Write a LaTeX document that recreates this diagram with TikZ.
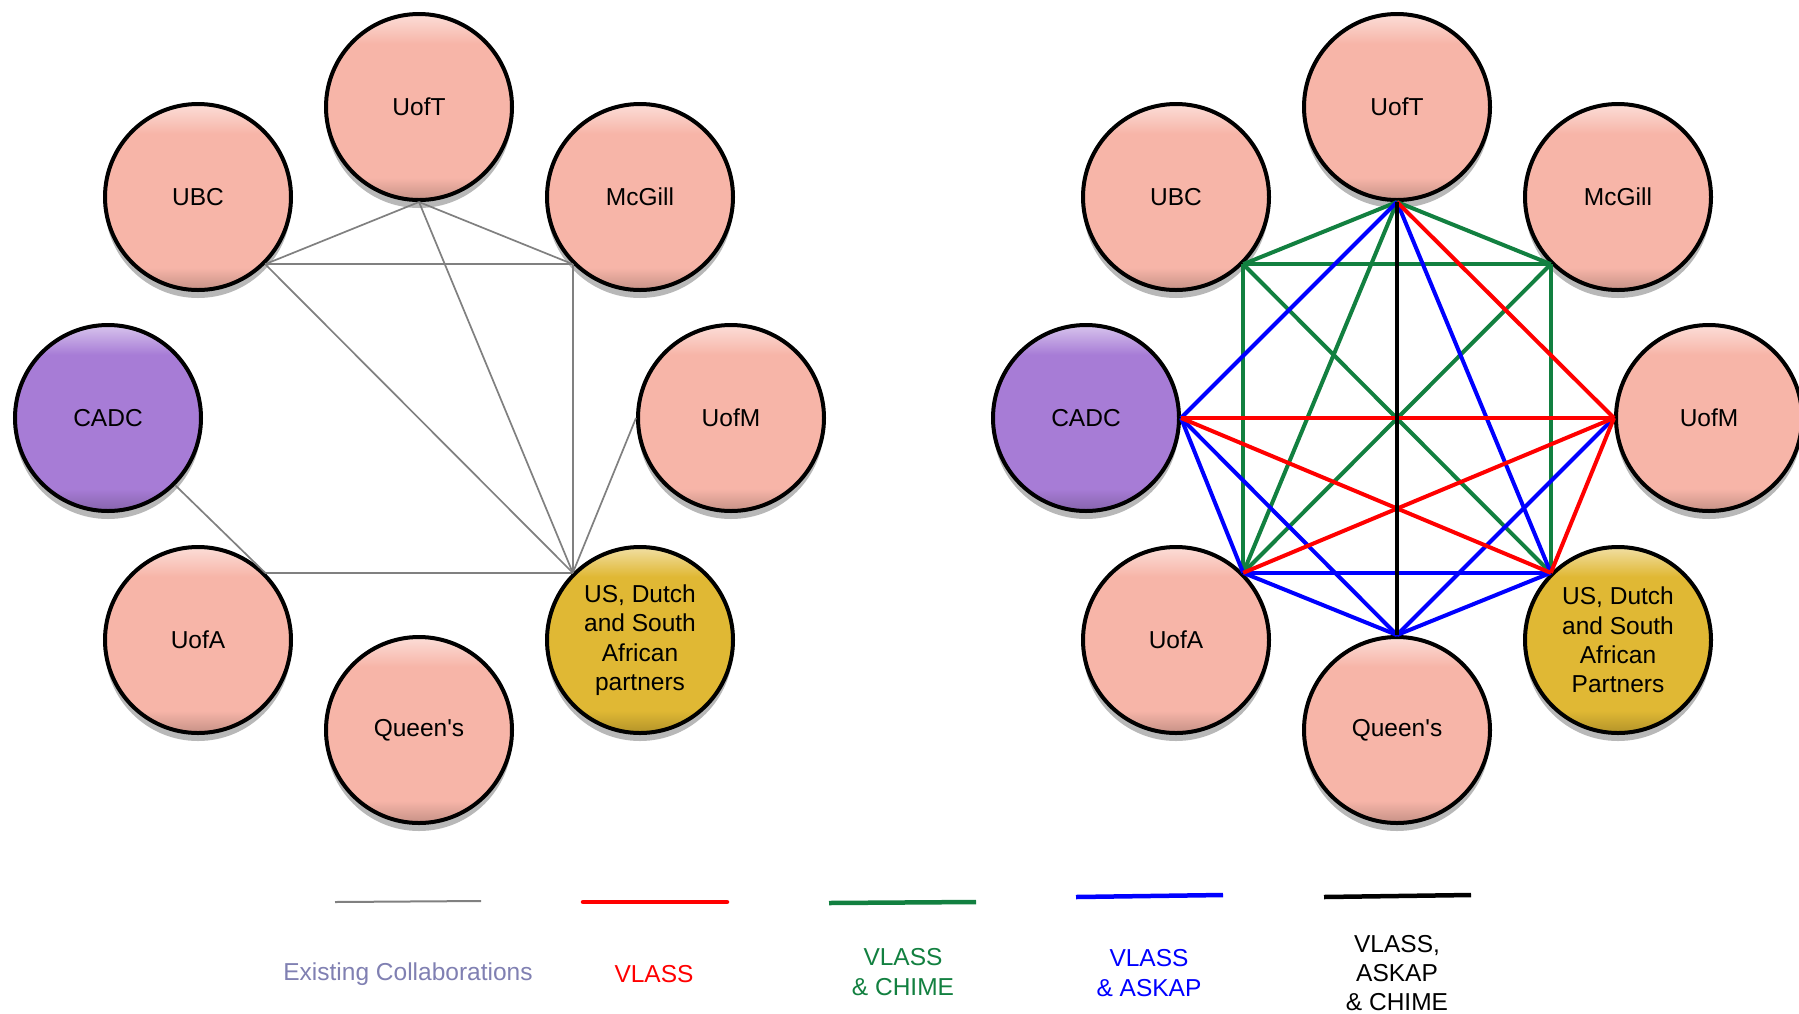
\documentclass[tikz,border=0pt]{standalone}
\usepackage{fontspec}
\setmainfont{Liberation Sans}[Ligatures=TeXOff]
\usetikzlibrary{shadows}
\definecolor{pinkM}{RGB}{247,181,168}
\definecolor{purpM}{RGB}{167,124,214}
\definecolor{goldM}{RGB}{224,184,52}
\colorlet{pinkD}{pinkM!80!black}
\colorlet{pinkL}{pinkM!45!white}
\colorlet{purpD}{purpM!80!black}
\colorlet{purpL}{purpM!45!white}
\colorlet{goldD}{goldM!80!black}
\colorlet{goldL}{goldM!45!white}
\definecolor{edgegray}{RGB}{128,128,128}
\definecolor{vgreen}{RGB}{18,128,64}
\definecolor{vred}{RGB}{255,0,0}
\definecolor{vblue}{RGB}{0,0,255}
\definecolor{legendgray}{RGB}{128,128,178}
\pgfdeclareverticalshading{pinkshade}{100bp}{color(0bp)=(pinkD); color(25bp)=(pinkD); color(31bp)=(pinkM); color(67bp)=(pinkM); color(75bp)=(pinkL); color(100bp)=(pinkL)}
\pgfdeclareverticalshading{purpshade}{100bp}{color(0bp)=(purpD); color(25bp)=(purpD); color(31bp)=(purpM); color(67bp)=(purpM); color(75bp)=(purpL); color(100bp)=(purpL)}
\pgfdeclareverticalshading{goldshade}{100bp}{color(0bp)=(goldD); color(25bp)=(goldD); color(31bp)=(goldM); color(67bp)=(goldM); color(75bp)=(goldL); color(100bp)=(goldL)}
\newcommand\orgfont{\fontsize{24.5}{29.4}\selectfont}
\begin{document}
\begin{tikzpicture}[x=1pt,y=-1pt,
  org/.style={circle, draw=black, line width=4pt, minimum size=186pt, inner sep=0pt,
    align=center, font=\orgfont, text=black,
    drop shadow={shadow xshift=0pt, shadow yshift=-8pt, opacity=0.28, fill=black}},
  pinkorg/.style={org, shade, shading=pinkshade},
  purporg/.style={org, shade, shading=purpshade},
  goldorg/.style={org, shade, shading=goldshade},
  existing/.style={draw=edgegray, line width=1.7pt},
  gline/.style={draw=vgreen, line width=4pt},
  bline/.style={draw=vblue, line width=4pt},
  rline/.style={draw=vred, line width=4pt},
  kline/.style={draw=black, line width=4pt},
  legtext/.style={font=\orgfont, align=center, inner sep=0pt}
]
\useasboundingbox[fill=white] (0,0) rectangle (1799,1013);

% ---------- left diagram ----------
\node[pinkorg] (lT) at (419,107) {UofT};
\node[pinkorg] (lB) at (198,197) {UBC};
\node[pinkorg] (lM) at (640,197) {McGill};
\node[purporg] (lC) at (108,418) {CADC};
\node[pinkorg] (lN) at (731,418) {UofM};
\node[pinkorg] (lA) at (198,640) {UofA};
\node[goldorg] (lS) at (640,640) {US, Dutch\\and South\\African\\partners};
\node[pinkorg] (lQ) at (419,730) {Queen's};

\draw[existing] (lT.south) -- (lB.south east);
\draw[existing] (lT.south) -- (lM.south west);
\draw[existing] (lB.south east) -- (lM.south west);
\draw[existing] (lB.south east) -- (lS.north west);
\draw[existing] (lT.south) -- (lS.north west);
\draw[existing] (lM.south west) -- (lS.north west);
\draw[existing] (lN.west) -- (lS.north west);
\draw[existing] (lA.north east) -- (lS.north west);
\draw[existing] (lC.south east) -- (lA.north east);

% ---------- right diagram ----------
\node[pinkorg] (rT) at (1397,107) {UofT};
\node[pinkorg] (rB) at (1176,197) {UBC};
\node[pinkorg] (rM) at (1618,197) {McGill};
\node[purporg] (rC) at (1086,418) {CADC};
\node[pinkorg] (rN) at (1709,418) {UofM};
\node[pinkorg] (rA) at (1176,640) {UofA};
\node[goldorg] (rS) at (1618,640) {US, Dutch\\and South\\African\\Partners};
\node[pinkorg] (rQ) at (1397,730) {Queen's};

% VLASS & CHIME
\draw[gline] (rT.south) -- (rB.south east);
\draw[gline] (rT.south) -- (rM.south west);
\draw[gline] (rB.south east) -- (rM.south west);
\draw[gline] (rB.south east) -- (rA.north east);
\draw[gline] (rM.south west) -- (rS.north west);
\draw[gline] (rB.south east) -- (rS.north west);
\draw[gline] (rM.south west) -- (rA.north east);
\draw[gline] (rT.south) -- (rA.north east);
% VLASS & ASKAP
\draw[bline] (rT.south) -- (rC.east);
\draw[bline] (rT.south) -- (rS.north west);
\draw[bline] (rC.east) -- (rA.north east);
\draw[bline] (rC.east) -- (rQ.north);
\draw[bline] (rN.west) -- (rQ.north);
\draw[bline] (rA.north east) -- (rS.north west);
\draw[bline] (rA.north east) -- (rQ.north);
\draw[bline] (rS.north west) -- (rQ.north);
% VLASS
\draw[rline] (rT.south) -- (rN.west);
\draw[rline] (rC.east) -- (rN.west);
\draw[rline] (rC.east) -- (rS.north west);
\draw[rline] (rA.north east) -- (rN.west);
\draw[rline] (rN.west) -- (rS.north west);
% VLASS, ASKAP & CHIME
\draw[kline] (rT.south) -- (rQ.north);

% ---------- legend ----------
\coordinate (e1) at (335,902); \coordinate (e2) at (481,901);
\coordinate (r1) at (583,902); \coordinate (r2) at (727,902);
\coordinate (g1) at (829,903); \coordinate (g2) at (976,902);
\coordinate (b1) at (1076,897); \coordinate (b2) at (1223,895);
\coordinate (k1) at (1324,897); \coordinate (k2) at (1471,895);
\draw[existing, line width=2pt] (e1) -- (e2);
\draw[rline, line width=4.5pt, line cap=round] (r1) -- (r2);
\draw[gline, line width=4.5pt] (g1) -- (g2);
\draw[bline, line width=4.5pt] (b1) -- (b2);
\draw[kline, line width=4.5pt] (k1) -- (k2);

\node[legtext, text=legendgray] (tE) at (408,974) {Existing Collaborations};
\node[legtext, text=vred] (tR) at (654,974) {VLASS};
\node[legtext, text=vgreen] (tG) at (903,972) {VLASS\\\& CHIME};
\node[legtext, text=vblue] (tB) at (1149,973) {VLASS\\\& ASKAP};
\node[legtext, text=black] (tK) at (1397,973) {VLASS,\\ASKAP\\\& CHIME};
\end{tikzpicture}
\end{document}
